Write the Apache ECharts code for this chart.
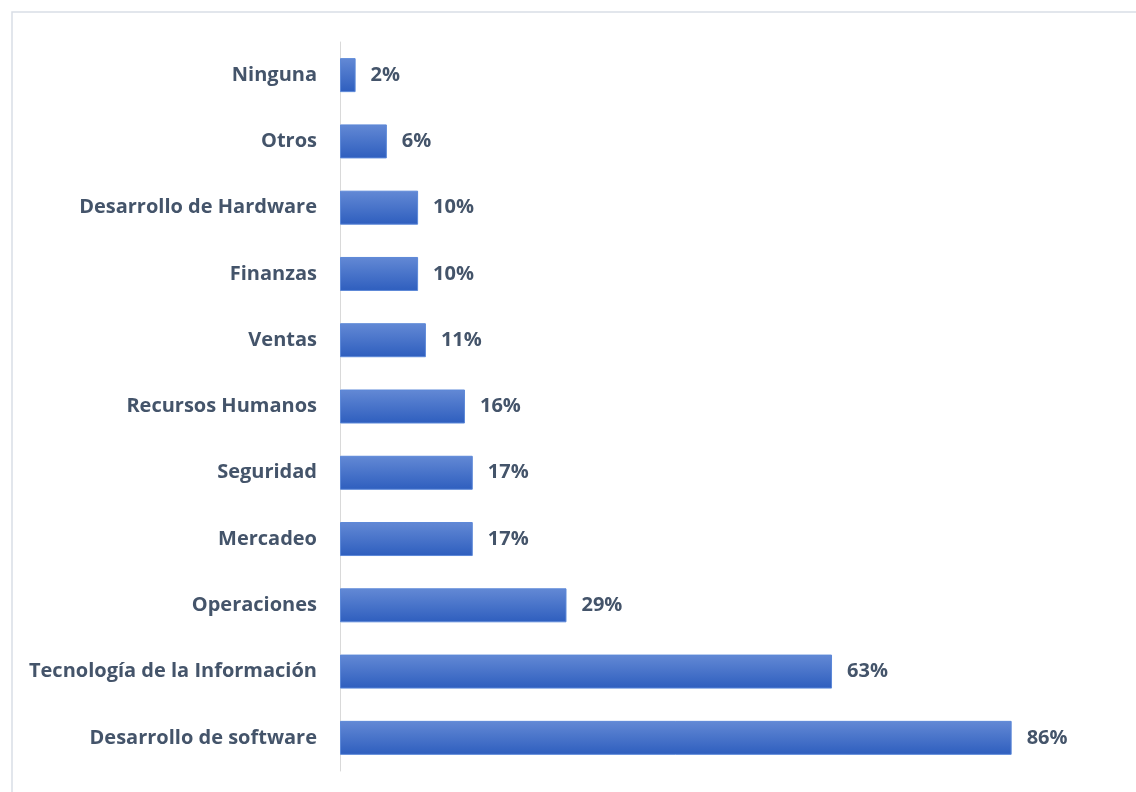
<!DOCTYPE html>
<html><head><meta charset="utf-8">
<script src="https://cdn.jsdelivr.net/npm/echarts@6/dist/echarts.min.js"></script>
<style>html,body{margin:0;padding:0;background:#fff}#c{width:1136px;height:792px}</style>
</head><body><div id="c"></div>
<script>
const categories = ["Desarrollo de software","Tecnología de la Información","Operaciones","Mercadeo","Seguridad","Recursos Humanos","Ventas","Finanzas","Desarrollo de Hardware","Otros","Ninguna"];
const values = [86,63,29,17,17,16,11,10,10,6,2];
const chart = echarts.init(document.getElementById('c'));
const font = '"Open Sans", sans-serif';
chart.setOption({
  animation:false,
  graphic:[{type:'rect',shape:{x:12,y:12,width:1140,height:800},style:{fill:'none',stroke:'#D9DEE6',lineWidth:1.5},z:-1}],
  grid:{left:340,top:42,width:781,height:729},
  xAxis:{type:'value',min:0,max:100,show:false},
  yAxis:{type:'category',data:categories,
    axisLine:{lineStyle:{color:'#D9D9D9',width:1}},axisTick:{show:false},
    axisLabel:{margin:23,color:'#44546A',fontWeight:'bold',fontSize:20,fontFamily:font,padding:[6,0,0,0]}},
  series:[{type:'bar',data:values,barWidth:34,
    itemStyle:{color:new echarts.graphic.LinearGradient(0,0,0,1,[{offset:0,color:'#6389D5'},{offset:1,color:'#2E5EBE'}]),borderColor:'#5C88D8',borderWidth:1},
    label:{show:true,position:'right',distance:15,formatter:'{c}%',color:'#44546A',fontWeight:'bold',fontSize:20,fontFamily:font,padding:[6,0,0,0]}}]
});
</script></body></html>
